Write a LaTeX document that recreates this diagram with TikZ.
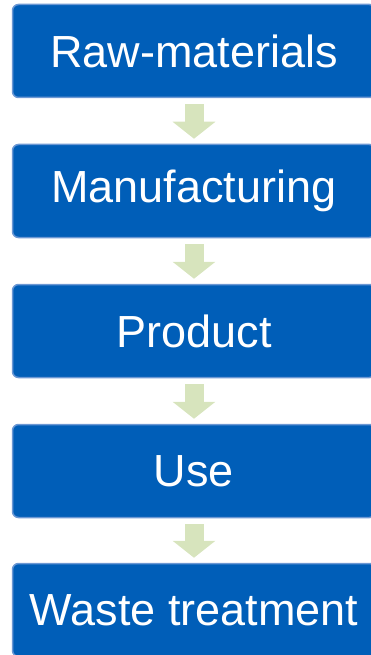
\documentclass[tikz,border=0pt]{standalone}
\usepackage{fontspec}
\setmainfont{Liberation Sans}
\usetikzlibrary{arrows.meta,calc}
\definecolor{boxfill}{RGB}{0,94,184}
\definecolor{boxline}{RGB}{108,152,212}
\definecolor{arrowfill}{RGB}{215,228,189}
\tikzset{
  stagebox/.style={draw=boxline, line width=1.5pt, fill=boxfill, rounded corners=6pt,
    minimum width=363pt, minimum height=93pt, inner sep=0pt, text=white,
    font=\fontsize{45pt}{50pt}\selectfont},
  flowarrow/.style={draw=arrowfill, line width=19pt,
    -{Triangle[width=42pt,length=17pt]}}
}
\begin{document}
\begin{tikzpicture}[x=1pt,y=1pt]
\useasboundingbox (0,0) rectangle (371,-655);
\begin{scope}
\clip (0,0) rectangle (371,-655);
\node[stagebox] (a) at (194,-51) {Raw-materials};
\node[stagebox] (b) at (194,-191) {Manufacturing};
\node[stagebox] (c) at (194,-331) {Product};
\node[stagebox] (d) at (194,-471) {Use};
\node[stagebox] (e) at (194,-610) {Waste treatment};
\foreach \u/\v in {a/b,b/c,c/d,d/e}{
  \draw[flowarrow] ($(\u.south)+(0,-6)$) -- ($(\v.north)+(0,5)$);
}
\end{scope}
\end{tikzpicture}
\end{document}
